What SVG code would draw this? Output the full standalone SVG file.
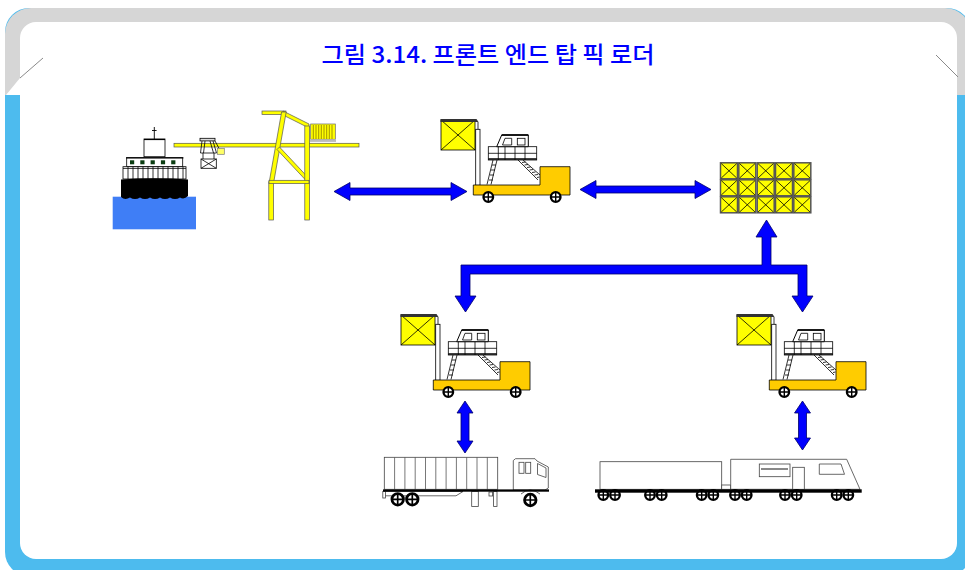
<svg xmlns="http://www.w3.org/2000/svg" xmlns:xlink="http://www.w3.org/1999/xlink" width="965" height="570" viewBox="0 0 965 570">
  <style>
    .title { font-family: "Noto Sans CJK KR", "Noto Sans", sans-serif; font-size: 23px; font-weight: 500; fill: #0000FF; }
    .arrow { fill: #0000FF; stroke: #00006A; stroke-width: 0.8; stroke-linejoin: miter; }
    .ln { stroke: #000; stroke-width: 0.8; fill: none; }
    .outline { stroke: #000; stroke-width: 0.8; }
    .steel { fill: #FFFF00; stroke: #555; stroke-width: 0.7; }
    .gray { stroke: #444; stroke-width: 0.8; fill: #fff; }
  </style>
  <defs>
    <!-- small wheel: thick black rim, cross hub -->
    <g id="wheel">
      <circle r="4.8" fill="#fff" stroke="#000" stroke-width="2.3"/>
      <path d="M-4.8,0H4.8M0,-4.8V4.8" stroke="#000" stroke-width="1.4"/>
    </g>
    <!-- container cell in the stack -->
    <g id="cell">
      <rect width="17" height="16" fill="#FFFF00" stroke="#555" stroke-width="1.5"/>
      <path d="M0.8,0.8L16.2,15.2M16.2,0.8L0.8,15.2" stroke="#000" stroke-width="0.8"/>
    </g>
    <!-- front-end top pick loader, local coordinates -->
    <g id="loader">
      <!-- mast -->
      <rect x="45.7" y="19.3" width="4.3" height="56" fill="#fff" class="outline"/>
      <!-- stairs to operator seat -->
      <path class="ln" d="M88,50 L108,70 M93,50 L110,65"/>
      <path class="ln" stroke-width="0.6" d="M92,52.5 L95.5,52 M94.5,55 L98,54.5 M97,57.5 L100.5,57 M99.5,60 L103,59.5 M102,62.5 L105.5,62 M104.5,65 L108,64.5 M107,67.5 L109.5,67"/>
      <!-- ladder to body -->
      <path class="ln" d="M63,50 L57,74.5 M67,50 L61,74.5"/>
      <path class="ln" stroke-width="0.6" d="M62,55 H66 M61,60 H65 M60,65 H64 M59,70 H63"/>
      <!-- load box -->
      <rect x="11" y="10" width="34" height="30" fill="#FFFF00" class="outline"/>
      <path class="ln" d="M11,10 L45,40 M45,10 L11,40"/>
      <path d="M10.5,9 H46.5 L48.5,12 H10.5 Z" fill="#333"/>
      <path class="ln" d="M48,12 L48,19.3"/>
      <!-- body -->
      <path d="M43.3,75 H110 V56.7 H140 V85 H43.3 Z" fill="#FFCC00" class="outline"/>
      <!-- seat block -->
      <rect x="58.3" y="36.7" width="48.4" height="13.3" fill="#fff" class="outline"/>
      <path class="ln" d="M58.3,43.3 H106.7 M68.3,36.7 V50 M75,36.7 V50 M85,36.7 V50 M95,36.7 V50"/>
      <path d="M58.3,49 H106.7" stroke="#000" stroke-width="1.6"/>
      <!-- canopy -->
      <path d="M71.7,25 H98.3 V36.7 H66.7 Z" fill="#fff" stroke="#000" stroke-width="1"/>
      <path d="M71.7,25 H98.3" stroke="#000" stroke-width="1.6"/>
      <path d="M75,28.3 H81.7 V35 H72.5 Z" fill="#fff" class="outline"/>
      <rect x="87.3" y="28.3" width="7.7" height="6.7" fill="#fff" class="outline"/>
      <!-- wheels -->
      <use xlink:href="#wheel" href="#wheel" x="58.3" y="87"/>
      <use xlink:href="#wheel" href="#wheel" x="125.7" y="87"/>
    </g>
  </defs>

  <!-- page frame -->
  <g id="frame">
    <rect x="5" y="8" width="966" height="568" rx="24" fill="#4DBBEE"/>
    <path d="M5,95 V34 A26,26 0 0 1 31,8 H945 A26,26 0 0 1 971,34 V95 Z" fill="#D6D6D6"/>
    <rect x="20" y="22" width="937" height="537" rx="16" fill="#fff"/>
    <path d="M20,78 L20,95 L6,95 Z" fill="#fff"/>
    <path d="M20,78 L43,58 M936,55 L958,77" stroke="#8A8A8A" stroke-width="1"/>
  </g>

  <text class="title" x="488" y="63" text-anchor="middle" textLength="333" lengthAdjust="spacingAndGlyphs">그림 3.14. 프론트 엔드 탑 픽 로더</text>

  <!-- container ship -->
  <g id="ship">
    <rect x="112.7" y="196.7" width="83.3" height="32.6" fill="#3F7EF6"/>
    <path d="M154.3,127 V139 M152,130.5 H156.6" stroke="#000" stroke-width="0.9"/>
    <rect x="144" y="139" width="21" height="17.7" fill="#fff" class="outline"/>
    <path d="M144,139.5 H165" stroke="#000" stroke-width="1.2"/>
    <rect x="126.7" y="157.7" width="56" height="9" fill="#fff" class="outline"/>
    <path d="M126,157.9 H183.4" stroke="#000" stroke-width="1.4"/>
    <g fill="#0B3D12">
      <rect x="130" y="160.3" width="4.2" height="4"/>
      <rect x="140.3" y="160.3" width="4.2" height="4"/>
      <rect x="150.6" y="160.3" width="4.2" height="4"/>
      <rect x="160.9" y="160.3" width="4.2" height="4"/>
      <rect x="171.2" y="160.3" width="4.2" height="4"/>
    </g>
    <rect x="123" y="166.7" width="63" height="12.3" fill="#fff" class="outline"/>
    <path class="ln" d="M123,168.4 H186 M128,166.7 V179 M133,166.7 V179 M138,166.7 V179 M143,166.7 V179 M148,166.7 V179 M153,166.7 V179 M158,166.7 V179 M163,166.7 V179 M168,166.7 V179 M173,166.7 V179 M178,166.7 V179 M183,166.7 V179"/>
    <path d="M121,179.5 Q154,177 188,179.5 V196 Q184,200 180,197.5 Q175,200.5 170,197.5 Q165,200.5 160,197.5 Q155,200.5 150,197.5 Q145,200.5 140,197.5 Q135,200.5 130,197.5 Q125,200.5 121,197 Z" fill="#000"/>
  </g>

  <!-- quay crane -->
  <g id="crane">
    <rect class="steel" x="174" y="143.3" width="185" height="3.7"/>
    <!-- trolley and spreader -->
    <rect x="200" y="138.3" width="15" height="2.6" fill="#ddd" class="outline"/>
    <path class="ln" d="M202,141 L200.5,153 M213,141 L216.5,153 M205,141 L203.5,153 M210,141 L213.5,153 M200.5,153 H216.5 M203,153 L203,159 M214,153 L214,159"/>
    <rect x="201" y="159" width="15.3" height="9.3" fill="#fff" class="outline"/>
    <path class="ln" d="M201,159 L216.3,168.3 M216.3,159 L201,168.3"/>
    <path class="ln" d="M215,141 L219,148.3"/>
    <rect x="217.3" y="148.3" width="7" height="6" fill="#FFFF66" stroke="#777" stroke-width="0.7"/>
    <!-- tower -->
    <rect class="steel" x="262" y="111" width="24" height="3.5"/>
    <path class="steel" d="M283,111 L309,124 L309,128 L283,115 Z"/>
    <path class="steel" d="M269.3,181.7 L273.8,181.7 L286.2,112 L281.6,112 Z"/>
    <path class="steel" d="M277,149.5 L279.5,147 L309,178.5 L306.5,181 Z"/>
    <rect class="steel" x="304.8" y="126" width="4.7" height="94"/>
    <rect class="steel" x="268.8" y="181.7" width="4.7" height="38.3"/>
    <rect class="steel" x="269" y="180.3" width="40" height="3.2"/>
    <!-- container on the boom -->
    <rect x="310.7" y="124" width="24.6" height="15.3" fill="#FFFF00" stroke="#666" stroke-width="0.7"/>
    <path d="M313.3,125 V139 M316,125 V139 M318.7,125 V139 M321.3,125 V139 M324,125 V139 M326.7,125 V139 M329.3,125 V139 M332,125 V139" stroke="#8A7A00" stroke-width="0.8"/>
    <rect x="310" y="139.3" width="26" height="2.6" fill="#bbb"/>
  </g>

  <g id="loader-top"><use xlink:href="#loader" href="#loader" x="430" y="110"/></g>

  <!-- container stack -->
  <g id="stack">
    <use xlink:href="#cell" href="#cell" x="720.5" y="162.8"/>
    <use xlink:href="#cell" href="#cell" x="738.8" y="162.8"/>
    <use xlink:href="#cell" href="#cell" x="757.2" y="162.8"/>
    <use xlink:href="#cell" href="#cell" x="775.5" y="162.8"/>
    <use xlink:href="#cell" href="#cell" x="793.8" y="162.8"/>
    <use xlink:href="#cell" href="#cell" x="720.5" y="179.8"/>
    <use xlink:href="#cell" href="#cell" x="738.8" y="179.8"/>
    <use xlink:href="#cell" href="#cell" x="757.2" y="179.8"/>
    <use xlink:href="#cell" href="#cell" x="775.5" y="179.8"/>
    <use xlink:href="#cell" href="#cell" x="793.8" y="179.8"/>
    <use xlink:href="#cell" href="#cell" x="720.5" y="196.8"/>
    <use xlink:href="#cell" href="#cell" x="738.8" y="196.8"/>
    <use xlink:href="#cell" href="#cell" x="757.2" y="196.8"/>
    <use xlink:href="#cell" href="#cell" x="775.5" y="196.8"/>
    <use xlink:href="#cell" href="#cell" x="793.8" y="196.8"/>
  </g>

  <g id="loader-left"><use xlink:href="#loader" href="#loader" x="390" y="305"/></g>
  <g id="loader-right"><use xlink:href="#loader" href="#loader" x="726" y="305"/></g>

  <!-- semi-trailer truck -->
  <g id="truck">
    <rect x="384.3" y="457.3" width="113.4" height="32" class="gray"/>
    <path d="M394.6,457.3 V489.3 M404.9,457.3 V489.3 M415.2,457.3 V489.3 M425.5,457.3 V489.3 M435.8,457.3 V489.3 M446.1,457.3 V489.3 M456.4,457.3 V489.3 M466.7,457.3 V489.3 M477,457.3 V489.3 M487.3,457.3 V489.3" stroke="#555" stroke-width="0.8"/>
    <path d="M384,491.5 H463 L456,495.8 H384 Z" class="gray"/>
    <rect x="382.8" y="491.5" width="2.6" height="6.5" class="gray"/>
    <rect x="471.7" y="491.5" width="6.6" height="15" class="gray"/>
    <rect x="489" y="492" width="3.6" height="4" class="gray"/>
    <rect x="493.6" y="491.5" width="3.4" height="15" class="gray"/>
    <!-- cab -->
    <path d="M513.3,490 V460.5 L515.5,458.7 H535 L537,461 L548.3,467 V488 L545,490 Z" class="gray"/>
    <rect x="519" y="462.3" width="5" height="11" class="gray"/>
    <rect x="525.7" y="462.3" width="5" height="11" class="gray"/>
    <path d="M537.5,463.5 L546,468 V477.5 L537.5,474.5 Z" class="gray"/>
    <path d="M521,494 Q530,486 540,494" fill="none" stroke="#444" stroke-width="0.8"/>
    <rect x="383" y="489.4" width="166" height="2.3" fill="#000"/>
    <use xlink:href="#wheel" href="#wheel" transform="translate(397.7,499.3) scale(1.2)"/>
    <use xlink:href="#wheel" href="#wheel" transform="translate(412.3,499.3) scale(1.2)"/>
    <use xlink:href="#wheel" href="#wheel" transform="translate(530.3,500) scale(1.2)"/>
  </g>

  <!-- train -->
  <g id="train">
    <rect x="600" y="461.7" width="121.7" height="27.6" class="gray" stroke-width="1"/>
    <rect x="721.7" y="485" width="9" height="4.3" class="gray" stroke-width="0.6"/>
    <path d="M730.7,489.3 V459.3 H846.7 L860,489.3 Z" class="gray" stroke-width="1"/>
    <rect x="759.3" y="464" width="30.7" height="12.7" class="gray"/>
    <path d="M761,469 H788" stroke="#555" stroke-width="1.4"/>
    <rect x="792.7" y="467.3" width="11.6" height="22" class="gray"/>
    <path d="M819.3,464 H841 L844.5,474.3 H819.3 Z" class="gray"/>
    <use xlink:href="#wheel" href="#wheel" x="603.3" y="495"/>
    <use xlink:href="#wheel" href="#wheel" x="615" y="495"/>
    <use xlink:href="#wheel" href="#wheel" x="650" y="495"/>
    <use xlink:href="#wheel" href="#wheel" x="661.7" y="495"/>
    <use xlink:href="#wheel" href="#wheel" x="701.7" y="495"/>
    <use xlink:href="#wheel" href="#wheel" x="713.3" y="495"/>
    <use xlink:href="#wheel" href="#wheel" x="735" y="495"/>
    <use xlink:href="#wheel" href="#wheel" x="746.7" y="495"/>
    <use xlink:href="#wheel" href="#wheel" x="785" y="495"/>
    <use xlink:href="#wheel" href="#wheel" x="796.7" y="495"/>
    <use xlink:href="#wheel" href="#wheel" x="836.7" y="495"/>
    <use xlink:href="#wheel" href="#wheel" x="848.3" y="495"/>
    <rect x="595" y="489.3" width="266.7" height="3.4" fill="#000"/>
  </g>

  <!-- connectors -->
  <g id="connectors">
    <path class="arrow" d="M334,191.5 L350,182.5 V188 H451 V182.5 L467,191.5 L451,200.5 V195 H350 V200.5 Z"/>
    <path class="arrow" d="M580,189.5 L596,180.5 V186 H695 V180.5 L711,189.5 L695,198.5 V193 H596 V198.5 Z"/>
    <path class="arrow" d="M766.5,220 L777,237 H771 V265 H807 V296 H813 L802.5,312 L792,296 H798 V274 H470 V296 H476 L465.5,312 L455,296 H461 V265 H762 V237 H756 Z"/>
    <path class="arrow" d="M465,401 L473,413 H469 V441 H473 L465,453 L457,441 H461 V413 H457 Z"/>
    <path class="arrow" d="M802.5,401 L810.5,413 H806.5 V438 H810.5 L802.5,450 L794.5,438 H798.5 V413 H794.5 Z"/>
  </g>
</svg>
